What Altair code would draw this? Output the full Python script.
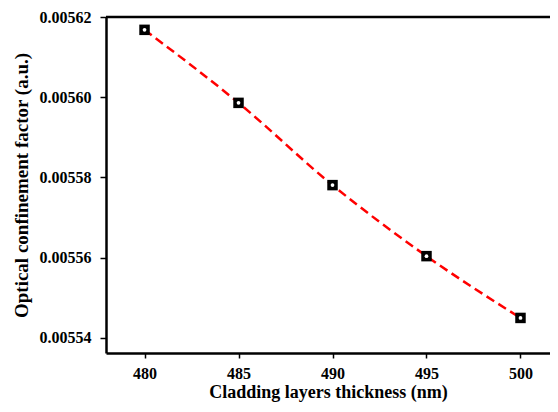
import altair as alt
import pandas as pd

thickness = [480, 485, 490, 495, 500]
confinement = [0.0056168, 0.0055986, 0.0055781, 0.0055604, 0.0055450]

df = pd.DataFrame({"x": thickness, "y": confinement})

FONT = "Liberation Serif"
W, H = 444, 336
xs = alt.Scale(domain=[477.95, 501.57], nice=False, zero=False)
ys = alt.Scale(domain=[0.00553626, 0.00562], nice=False, zero=False)

xax = alt.Axis(values=thickness, format="d", title="Cladding layers thickness (nm)",
               titlePadding=2, labelPadding=7, tickSize=5, titleFontSize=18)
yax = alt.Axis(values=[0.00554, 0.00556, 0.00558, 0.00560, 0.00562], format=".5f",
               title="Optical confinement factor (a.u.)", titlePadding=8, labelPadding=9)

base = alt.Chart(df)

line = base.mark_line(color="#ff0000", strokeWidth=2.5, strokeDash=[9, 5],
                      interpolate="monotone").encode(
    x=alt.X("x:Q", scale=xs, axis=xax),
    y=alt.Y("y:Q", scale=ys, axis=yax),
)

sq = base.mark_point(shape="square", filled=True, color="black", size=110, opacity=1).encode(
    x=alt.X("x:Q", scale=xs), y=alt.Y("y:Q", scale=ys))
dot = base.mark_point(shape="circle", filled=True, color="white", size=14, opacity=1).encode(
    x=alt.X("x:Q", scale=xs), y=alt.Y("y:Q", scale=ys))

top = alt.Chart(pd.DataFrame({"a": [0]})).mark_rule(color="black", strokeWidth=2.5).encode(
    x=alt.value(0), x2=alt.value(W), y=alt.value(0))

chart = alt.layer(line, sq, dot, top).properties(
    width=W, height=H,
    autosize=alt.AutoSizeParams(type="none"),
    padding={"left": 98, "top": 9, "right": 0, "bottom": 51},
).configure_view(stroke=None).configure_axis(
    labelFont=FONT, titleFont=FONT, labelFontWeight="bold", titleFontWeight="bold",
    labelFontSize=16, titleFontSize=19, labelColor="black", titleColor="black",
    domainColor="black", domainWidth=2.5, tickColor="black", tickWidth=1.5, tickSize=6,
    grid=False,
)

chart.save("out.html", embed_options={"renderer": "svg", "actions": False})
